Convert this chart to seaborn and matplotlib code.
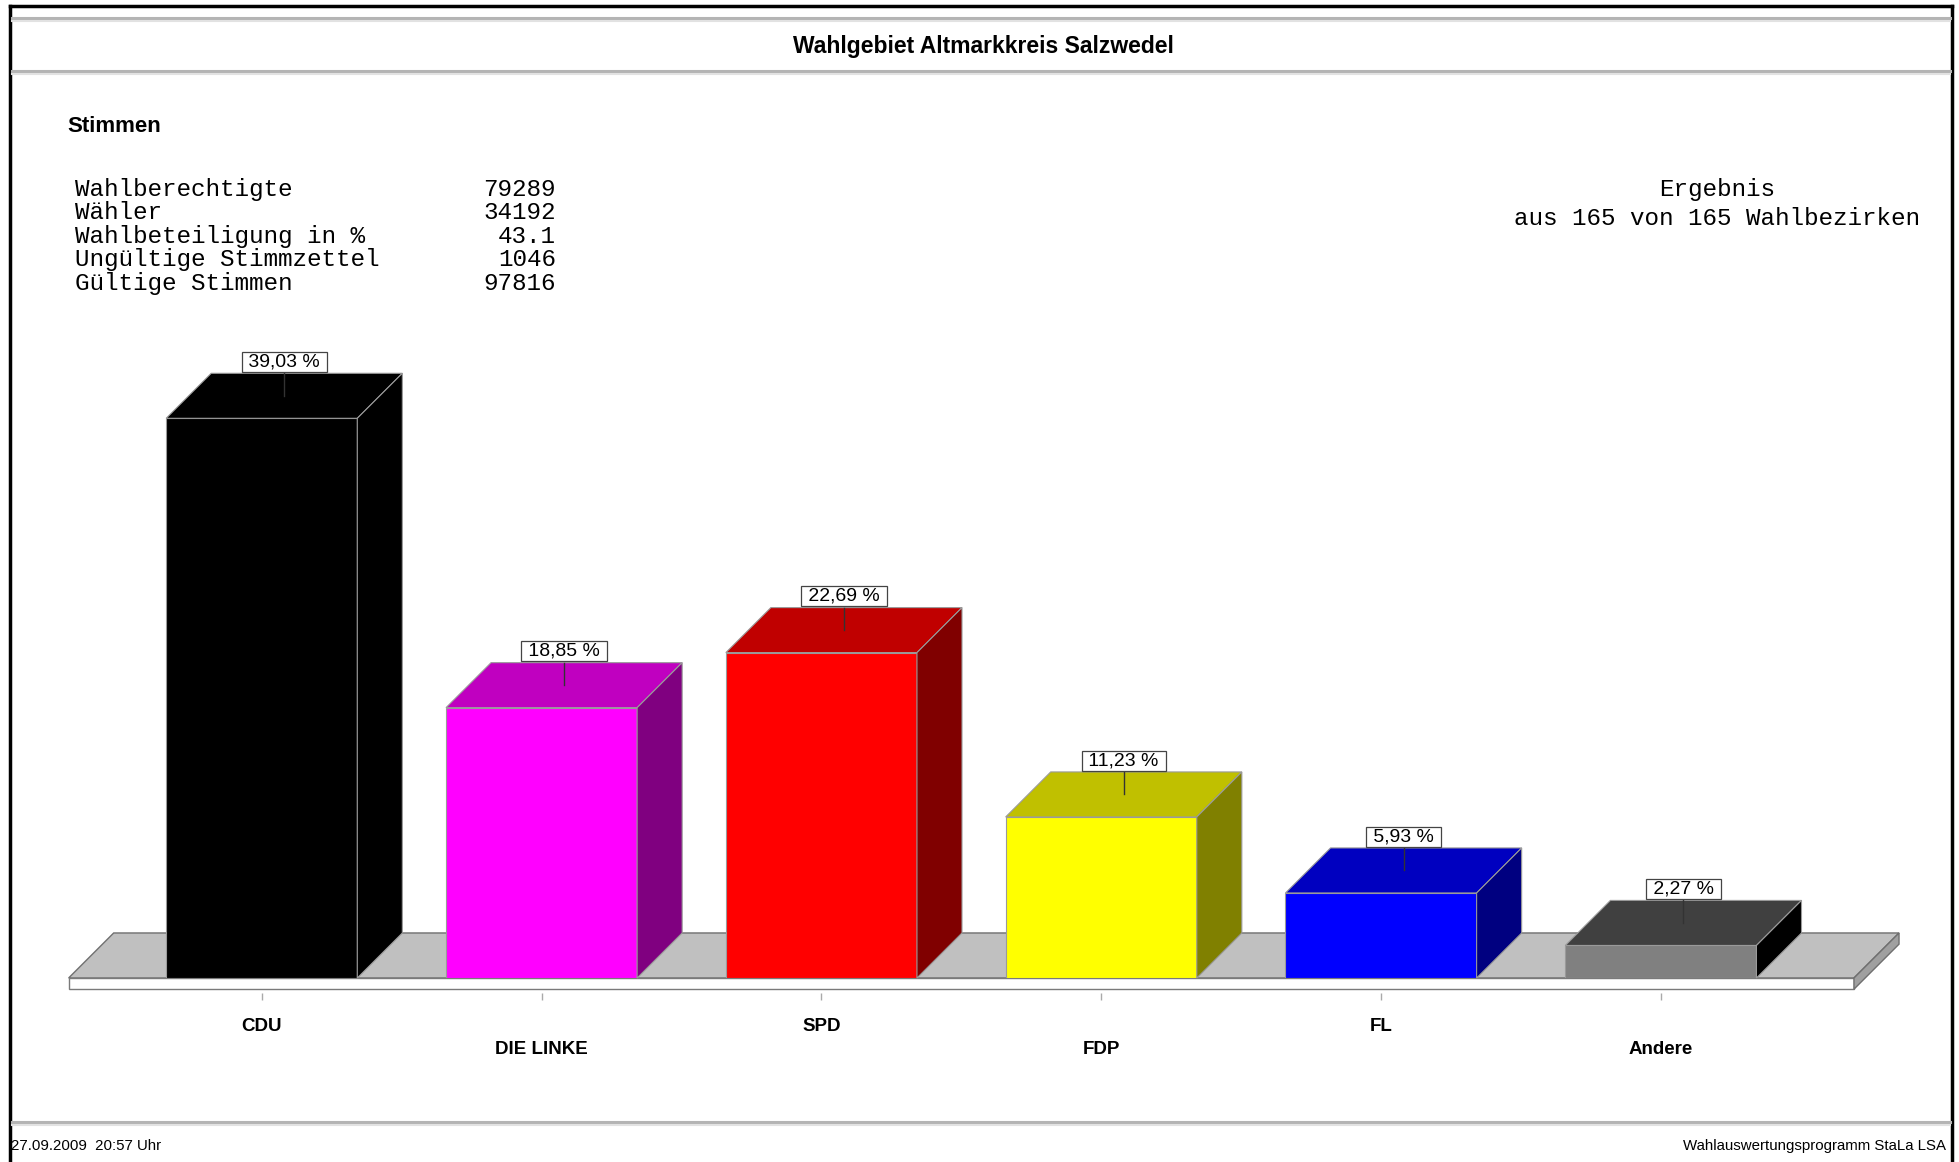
import matplotlib
matplotlib.use("Agg")
import matplotlib.pyplot as plt
from matplotlib.patches import Polygon, Rectangle
from matplotlib.lines import Line2D
import seaborn as sns

# ── data ─────────────────────────────────────────────────────
PARTIES = ["CDU", "DIE LINKE", "SPD", "FDP", "FL", "Andere"]
SHARES = [39.03, 18.85, 22.69, 11.23, 5.93, 2.27]
FRONT_COLORS = ["#000000", "#ff00ff", "#ff0000", "#ffff00", "#0000ff", "#808080"]
TOP_COLORS = ["#000000", "#c000c0", "#c00000", "#c0c000", "#0000c0", "#404040"]
SIDE_COLORS = ["#000000", "#800080", "#800000", "#808000", "#000080", "#000000"]

STAT_LABELS = ["Wahlberechtigte", "Wähler", "Wahlbeteiligung in %",
               "Ungültige Stimmzettel", "Gültige Stimmen"]
STAT_VALUES = ["79289", "34192", "43.1", "1046", "97816"]

TITLE = "Wahlgebiet Altmarkkreis Salzwedel"
SUBTITLE = "Stimmen"
RESULT_LINES = ["Ergebnis", "aus 165 von 165 Wahlbezirken"]
FOOTER_LEFT = "27.09.2009  20:57 Uhr"
FOOTER_RIGHT = "Wahlauswertungsprogramm StaLa LSA"

# ── layout (pixels of the 1959x1162 canvas) ──────────────────
W, H = 1959, 1162
DX, DY = 0.161, 3.14          # 3D depth in data units
FLOOR_X0, FLOOR_X1 = -0.69, 5.69
STRIP = 0.78
EDGE = "#9a9a9a"


def fx(px):
    return px / W


def fy(py):
    return 1 - py / H


plt.rcParams["font.family"] = ["Liberation Sans", "DejaVu Sans"]

fig = plt.figure(figsize=(W / 100, H / 100), dpi=100)
fig.patch.set_facecolor("white")

ax = fig.add_axes([121.8 / W, 184 / H, 1679 / W, 717 / H])
ax.set_facecolor("none")

sns.barplot(x=PARTIES, y=SHARES, hue=PARTIES, palette=FRONT_COLORS,
            saturation=1, width=0.683, legend=False, ax=ax, zorder=3)
ax.set_xlim(-0.5, 5.5)
ax.set_ylim(0, 50)

# floor slab
ax.add_patch(Polygon([(FLOOR_X0, 0), (FLOOR_X1, 0), (FLOOR_X1 + DX, DY), (FLOOR_X0 + DX, DY)],
                     closed=True, fc="#c0c0c0", ec="#6f6f6f", lw=1.0, zorder=1, clip_on=False))
ax.add_patch(Rectangle((FLOOR_X0, -STRIP), FLOOR_X1 - FLOOR_X0, STRIP,
                       fc="white", ec="#7a7a7a", lw=1.0, zorder=1, clip_on=False))
ax.add_patch(Polygon([(FLOOR_X1, 0), (FLOOR_X1 + DX, DY), (FLOOR_X1 + DX, DY - STRIP), (FLOOR_X1, -STRIP)],
                     closed=True, fc="#a0a0a0", ec="#6f6f6f", lw=1.0, zorder=1, clip_on=False))

# 3D faces + value boxes
for i, p in enumerate(ax.patches[:len(PARTIES)]):
    x0, w, h = p.get_x(), p.get_width(), p.get_height()
    x1 = x0 + w
    p.set_edgecolor(EDGE)
    p.set_linewidth(0.8)
    ax.add_patch(Polygon([(x0, h), (x1, h), (x1 + DX, h + DY), (x0 + DX, h + DY)],
                         closed=True, fc=TOP_COLORS[i], ec=EDGE, lw=0.8, zorder=3, clip_on=False))
    ax.add_patch(Polygon([(x1, 0), (x1 + DX, DY), (x1 + DX, h + DY), (x1, h)],
                         closed=True, fc=SIDE_COLORS[i], ec=EDGE, lw=0.8, zorder=3, clip_on=False))
    cx = x0 + w / 2 + DX / 2
    ax.plot([cx, cx], [h + DY / 2, h + DY], color="#333333", lw=1.0, zorder=4)
    label = " " + f"{SHARES[i]:.2f}".replace(".", ",") + " % "
    ax.annotate(label, xy=(cx, h + DY), xytext=(0, 2.0), textcoords="offset points",
                ha="center", va="bottom", fontsize=14, zorder=5,
                bbox=dict(boxstyle="square,pad=0.08", fc="white", ec="#444444", lw=0.9))

# axis cosmetics
for side in ["top", "right", "left"]:
    ax.spines[side].set_visible(False)
ax.spines["bottom"].set_color("none")
ax.spines["bottom"].set_position(("outward", 11))
ax.set_yticks([])
ax.set_xlabel("")
ax.set_ylabel("")
ax.set_xticks(range(len(PARTIES)))
ax.set_xticklabels(PARTIES, fontsize=13.5, fontweight="bold")
ax.tick_params(axis="x", length=5, width=1, color="#aaaaaa", direction="out")
for i, tick in enumerate(ax.xaxis.get_major_ticks()):
    tick.set_pad(13 if i % 2 == 0 else 29.5)

# frame and rule lines
k = "black"
fig.add_artist(Line2D([fx(10), fx(1952)], [fy(6), fy(6)], color=k, lw=2.5))
fig.add_artist(Line2D([fx(10), fx(10)], [fy(6), 0], color=k, lw=2.5))
fig.add_artist(Line2D([fx(1952), fx(1952)], [fy(6), 0], color=k, lw=2.5))
for yy in (17.5, 71, 1122):
    fig.add_artist(Line2D([fx(12), fx(1950)], [fy(yy), fy(yy)], color="#b4b4b4", lw=2.2))
    fig.add_artist(Line2D([fx(12), fx(1950)], [fy(yy + 3), fy(yy + 3)], color="#e2e2e2", lw=1.5))

# header texts
fig.text(fx(983), fy(46), TITLE, ha="center", va="center", fontsize=16.5, fontweight="bold")
fig.text(fx(67), fy(126), SUBTITLE, ha="left", va="center", fontsize=16, fontweight="bold")

mono = ["Liberation Mono", "DejaVu Sans Mono"]
for i, (lab, val) in enumerate(zip(STAT_LABELS, STAT_VALUES)):
    yy = 189.5 + 23.4 * i
    fig.text(fx(75), fy(yy), lab, ha="left", va="center", fontsize=17.5, family=mono)
    fig.text(fx(556), fy(yy), val, ha="right", va="center", fontsize=17.5, family=mono)

for i, line in enumerate(RESULT_LINES):
    fig.text(fx(1717), fy(189.5 + 28.7 * i), line, ha="center", va="center",
             fontsize=17.5, family=mono)

# footer
fig.text(fx(11), fy(1146), FOOTER_LEFT, ha="left", va="center", fontsize=10.8)
fig.text(fx(1946), fy(1146), FOOTER_RIGHT, ha="right", va="center", fontsize=10.8)

fig.savefig("out.png", dpi=100)
plt.close(fig)
